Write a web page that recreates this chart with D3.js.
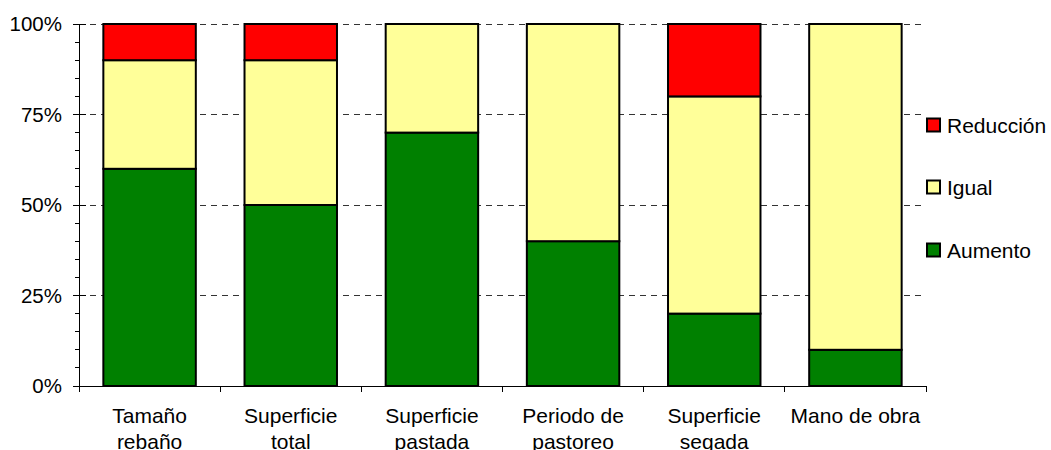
<!DOCTYPE html>
<html>
<head>
<meta charset="utf-8">
<script src="https://cdn.jsdelivr.net/npm/d3@7"></script>
<style>
  html, body { margin: 0; padding: 0; background: #fff; }
  svg { display: block; font-family: "Liberation Sans", Arial, sans-serif; }
</style>
</head>
<body>
<svg id="chart" width="1051" height="450"></svg>
<script>
// Categories (two-line labels) and stacked shares in percent
const categories = [
  ["Tamaño", "rebaño"],
  ["Superficie", "total"],
  ["Superficie", "pastada"],
  ["Periodo de", "pastoreo"],
  ["Superficie", "segada"],
  ["Mano de obra"]
];
const seriesNames = ["Aumento", "Igual", "Reducción"];
const aumento   = [60, 50, 70, 40, 20, 10];
const igual     = [30, 40, 30, 60, 60, 90];
const reduccion = [10, 10,  0,  0, 20,  0];
const yTicks = [0, 25, 50, 75, 100];
const yTickLabels = ["0%", "25%", "50%", "75%", "100%"];

const colors = { "Aumento": "#008000", "Igual": "#FFFF99", "Reducción": "#FF0000" };

const svg = d3.select("#chart");
const plotLeft = 79, plotRight = 926, plotTop = 24, plotBottom = 386;

const x = d3.scaleBand().domain(d3.range(categories.length)).range([plotLeft, plotRight]).padding(0);
const y = d3.scaleLinear().domain([0, 100]).range([plotBottom, plotTop]);
const barFrac = 0.655;

// dashed gridlines
svg.append("g").selectAll("line")
  .data(yTicks.filter(d => d > 0))
  .join("line")
  .attr("x1", plotLeft).attr("x2", plotRight)
  .attr("y1", d => y(d)).attr("y2", d => y(d))
  .attr("stroke", "#333").attr("stroke-width", 1)
  .attr("stroke-dasharray", "6,5")
  .attr("shape-rendering", "crispEdges");

// stacked data
const rows = categories.map((c, i) => ({ i, "Aumento": aumento[i], "Igual": igual[i], "Reducción": reduccion[i] }));
const stack = d3.stack().keys(seriesNames)(rows);

const bw = x.bandwidth() * barFrac;
svg.append("g").selectAll("g")
  .data(stack)
  .join("g")
  .attr("fill", d => colors[d.key])
  .selectAll("rect")
  .data(d => d.filter(s => s[1] - s[0] > 0))
  .join("rect")
  .attr("x", d => x(d.data.i) + (x.bandwidth() - bw) / 2)
  .attr("width", bw)
  .attr("y", d => y(d[1]))
  .attr("height", d => y(d[0]) - y(d[1]))
  .attr("stroke", "#000")
  .attr("stroke-width", 2);

// y axis
const yAxisG = svg.append("g");
yAxisG.append("line")
  .attr("x1", plotLeft).attr("x2", plotLeft).attr("y1", plotTop).attr("y2", plotBottom + 6)
  .attr("stroke", "#000").attr("shape-rendering", "crispEdges");
// minor ticks every 5%
yAxisG.selectAll("line.minor")
  .data(d3.range(0, 101, 5).filter(v => v % 25 !== 0))
  .join("line").attr("class", "minor")
  .attr("x1", plotLeft - 4).attr("x2", plotLeft)
  .attr("y1", d => y(d)).attr("y2", d => y(d))
  .attr("stroke", "#000").attr("shape-rendering", "crispEdges");
yAxisG.selectAll("line.major")
  .data(yTicks)
  .join("line").attr("class", "major")
  .attr("x1", plotLeft - 6).attr("x2", plotLeft + 7)
  .attr("y1", d => y(d)).attr("y2", d => y(d))
  .attr("stroke", "#000").attr("shape-rendering", "crispEdges");
yAxisG.selectAll("text")
  .data(yTicks)
  .join("text")
  .attr("x", 62).attr("y", d => y(d))
  .attr("dy", "0.36em")
  .attr("text-anchor", "end")
  .attr("font-size", 20.5)
  .attr("fill", "#000")
  .text((d, i) => yTickLabels[i]);

// x axis
const xAxisG = svg.append("g");
xAxisG.append("line")
  .attr("x1", plotLeft - 6).attr("x2", plotRight).attr("y1", plotBottom).attr("y2", plotBottom)
  .attr("stroke", "#000").attr("shape-rendering", "crispEdges");
xAxisG.selectAll("line.tick")
  .data(d3.range(1, categories.length + 1))
  .join("line").attr("class", "tick")
  .attr("x1", d => x(d - 1) + x.bandwidth()).attr("x2", d => x(d - 1) + x.bandwidth())
  .attr("y1", plotBottom).attr("y2", plotBottom + 6)
  .attr("stroke", "#000").attr("shape-rendering", "crispEdges");
const labels = xAxisG.selectAll("text")
  .data(categories)
  .join("text")
  .attr("x", (d, i) => x(i) + x.bandwidth() / 2)
  .attr("y", 423)
  .attr("text-anchor", "middle")
  .attr("font-size", 21)
  .attr("fill", "#000");
labels.selectAll("tspan")
  .data(d => d)
  .join("tspan")
  .attr("x", function() { return this.parentNode.getAttribute("x"); })
  .attr("dy", (d, i) => i === 0 ? 0 : 26)
  .text(d => d);

// legend
const legendItems = ["Reducción", "Igual", "Aumento"];
const legendY = [125, 187, 250];
const lg = svg.append("g").selectAll("g")
  .data(legendItems)
  .join("g")
  .attr("transform", (d, i) => `translate(927, ${legendY[i]})`);
lg.append("rect")
  .attr("x", 0).attr("y", -6.5).attr("width", 13).attr("height", 13)
  .attr("fill", d => colors[d]).attr("stroke", "#000").attr("stroke-width", 2);
lg.append("text")
  .attr("x", 20).attr("y", 0).attr("dy", "0.36em")
  .attr("font-size", 21).attr("fill", "#000")
  .text(d => d);
</script>
</body>
</html>
